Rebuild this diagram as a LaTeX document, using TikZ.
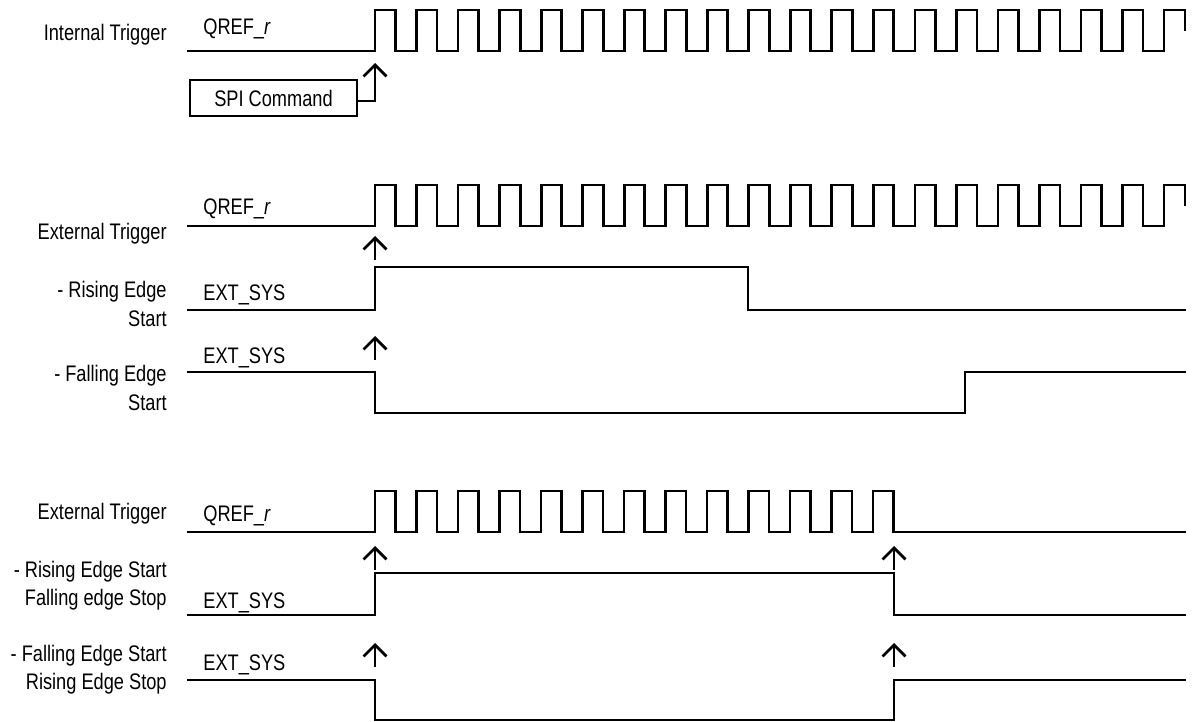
\documentclass[tikz,border=0pt]{standalone}
\usepackage{fontspec}
\setmainfont{Liberation Sans}[FakeStretch=0.81]
\usetikzlibrary{arrows.meta}

\begin{document}
\begin{tikzpicture}[
        x=0.02cm, y=-0.02cm,
        txt/.style={font=\fontsize{12.8}{16}\selectfont, inner sep=0pt},
        rowlbl/.style={txt, anchor=east, align=right},
        siglbl/.style={txt, anchor=base west},
        box/.style={rectangle, draw=black, line width=1.5pt, minimum width=3.34cm, minimum height=0.72cm, txt},
        wave/.style={line width=1.6pt, line join=miter},
        trig/.style={-{Straight Barb[length=6.5pt,width=13pt]}, line width=1.6pt}
    ]
        \useasboundingbox (0,0) rectangle (1192,722);

        % Row labels
        \node[rowlbl] (lblInt) at (167,35) {Internal Trigger};
        \node[rowlbl] (lblExtA) at (167,234) {External Trigger};
        \node[rowlbl] (lblRiseA) at (167,304) {- Rising Edge\\Start};
        \node[rowlbl] (lblFallA) at (167,388) {- Falling Edge\\Start};
        \node[rowlbl] (lblExtB) at (167,514) {External Trigger};
        \node[rowlbl] (lblRiseB) at (167,586) {- Rising Edge Start\\Falling edge Stop};
        \node[rowlbl] (lblFallB) at (167,670) {- Falling Edge Start\\Rising Edge Stop};

        % Signal names
        \node[siglbl] (qrefA) at (203,35) {QREF\_\textit{r}};
        \node[siglbl] (qrefB) at (203,215) {QREF\_\textit{r}};
        \node[siglbl] (extA) at (203,301) {EXT\_SYS};
        \node[siglbl] (extB) at (203,364) {EXT\_SYS};
        \node[siglbl] (qrefC) at (203,521) {QREF\_\textit{r}};
        \node[siglbl] (extC) at (203,608) {EXT\_SYS};
        \node[siglbl] (extD) at (203,670) {EXT\_SYS};

        % SPI command box
        \node[box] (spi) at (273.5,98) {SPI Command};

        % Waveforms
        \draw[wave] (187,51) -- (375,51)
            \foreach \k in {1,...,19} { -- ++(0,-41) -- ++(20.5,0) -- ++(0,41) -- ++(21.03,0) }
            -- ++(0,-41) -- ++(21,0) -- ++(0,21);
        \draw[wave] (187,226) -- (375,226)
            \foreach \k in {1,...,19} { -- ++(0,-41) -- ++(20.5,0) -- ++(0,41) -- ++(21.03,0) }
            -- ++(0,-41) -- ++(21,0) -- ++(0,21);
        \draw[wave] (187,310) -- (375,310) -- (375,267) -- (748,267) -- (748,310) -- (1186,310);
        \draw[wave] (187,372) -- (375,372) -- (375,413) -- (965,413) -- (965,372) -- (1186,372);
        \draw[wave] (187,532) -- (375,532)
            \foreach \k in {1,...,12} { -- ++(0,-41) -- ++(20.5,0) -- ++(0,41) -- ++(21,0) }
            -- ++(0,-41) -- ++(20.5,0) -- ++(0,41) -- (1186,532);
        \draw[wave] (187,615) -- (375,615) -- (375,573) -- (894,573) -- (894,615) -- (1186,615);
        \draw[wave] (187,680) -- (375,680) -- (375,720) -- (894,720) -- (894,680) -- (1186,680);

        % Trigger points
        \coordinate (spiout) at (375,101);
        \coordinate (tipInt) at (375,63);
        \coordinate (baseA) at (375,260);
        \coordinate (tipA) at (375,236);
        \coordinate (baseB) at (375,360);
        \coordinate (tipB) at (375,336);
        \coordinate (baseC) at (375,570);
        \coordinate (tipC) at (375,546);
        \coordinate (baseD) at (375,667);
        \coordinate (tipD) at (375,643);
        \coordinate (baseE) at (894,570);
        \coordinate (tipE) at (894,546);
        \coordinate (baseF) at (894,667);
        \coordinate (tipF) at (894,643);

        % Connectors
        \draw[trig] (spi.east |- spiout) -- (spiout) -- (tipInt);
        \draw[trig] (baseA) -- (tipA);
        \draw[trig] (baseB) -- (tipB);
        \draw[trig] (baseC) -- (tipC);
        \draw[trig] (baseD) -- (tipD);
        \draw[trig] (baseE) -- (tipE);
        \draw[trig] (baseF) -- (tipF);
    \end{tikzpicture}
\end{document}
